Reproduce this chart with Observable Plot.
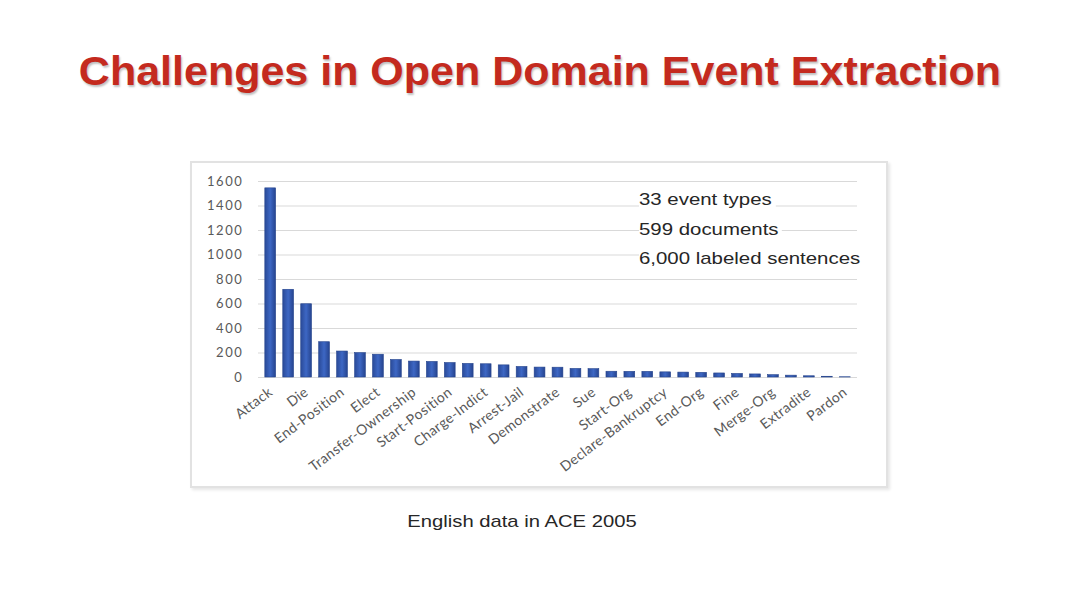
<!DOCTYPE html>
<html><head><meta charset="utf-8">
<script src="https://cdn.jsdelivr.net/npm/d3@7"></script>
<script src="https://cdn.jsdelivr.net/npm/@observablehq/plot@0.6"></script>
<style>
body{margin:0;width:1080px;height:608px;background:#fff;position:relative;overflow:hidden;font-family:"Liberation Sans",Arial,sans-serif}
#title{position:absolute;left:0;width:1080px;top:46px;line-height:50px;text-align:center;font-weight:bold;font-size:40px;color:#c42a1e;text-shadow:1px 2px 2px rgba(0,0,0,0.25);white-space:nowrap;transform:scaleX(1.075);transform-origin:540px 0}
#panel{position:absolute;left:190px;top:161px;width:694px;height:323px;border:2px solid #e2e2e2;box-shadow:2px 2px 3px rgba(0,0,0,0.10);background:#fff}
#chart{position:absolute;left:192px;top:163px}
#notes{position:absolute;left:639px;top:185px;font-size:17px;color:#262626;line-height:29.5px;white-space:nowrap;transform:scaleX(1.2);transform-origin:0 0}
#notes span{background:#fff;padding-right:3px}
#caption{position:absolute;left:-18px;width:1080px;top:511px;line-height:22px;text-align:center;font-size:17px;color:#262626;transform:scaleX(1.19);transform-origin:540px 0}
#chart g[aria-label="y-axis tick label"] text{letter-spacing:1.6px}
#chart g[aria-label="x-axis tick label"] text{letter-spacing:0.4px}
</style></head>
<body>
<div id="title">Challenges in Open Domain Event Extraction</div>
<div id="panel"></div>
<div id="chart"></div>
<div id="notes"><span>33 event types</span><br><span>599 documents</span><br><span>6,000 labeled sentences</span></div>
<div id="caption">English data in ACE 2005</div>
<script>
const eventTypes = ["Attack","Transport","Die","Meet","End-Position","Transfer-Money","Elect","Injure","Transfer-Ownership","Phone-Write","Start-Position","Trial-Hearing","Charge-Indict","Sentence","Arrest-Jail","Marry","Demonstrate","Convict","Sue","Release-Parole","Start-Org","Be-Born","Declare-Bankruptcy","Execute","End-Org","Divorce","Fine","Appeal","Merge-Org","Nominate","Extradite","Acquit","Pardon"];
const counts = [1544,716,598,288,212,199,186,143,130,127,118,111,108,99,86,81,80,70,68,47,46,46,42,40,38,33,29,25,19,15,10,6,2];
const labeledTypes = ["Attack","Die","End-Position","Elect","Transfer-Ownership","Start-Position","Charge-Indict","Arrest-Jail","Demonstrate","Sue","Start-Org","Declare-Bankruptcy","End-Org","Fine","Merge-Org","Extradite","Pardon"];
const yTicks = [0,200,400,600,800,1000,1200,1400,1600];

const data = eventTypes.map((t,i)=>({type:t,count:counts[i]}));

const chart = Plot.plot({
  width: 694, height: 322,
  marginLeft: 66, marginRight: 29, marginTop: 18, marginBottom: 108,
  style: {fontFamily: "Lato, 'Liberation Sans', sans-serif", fontSize: "12px", color: "#595959", background: "transparent"},
  x: {domain: eventTypes, padding: 0.4, paddingOuter: 0.38, label: null},
  y: {domain: [0,1600], label: null},
  marks: [
    Plot.ruleY(yTicks, {stroke: "#d9d9d9", strokeWidth: 1, strokeOpacity: 1}),
    Plot.barY(data, {x: "type", y: "count", fill: "url(#barGrad)", stroke: "#24438c", strokeWidth: 0.6}),
    Plot.axisY({ticks: yTicks, tickSize: 0, tickPadding: 15, fontSize: 13, tickFormat: d => String(d)}),
    Plot.axisX({ticks: labeledTypes, tickSize: 0, tickPadding: 13, tickRotate: -37, fontSize: 14})
  ]
});
const defs = document.createElementNS("http://www.w3.org/2000/svg","defs");
defs.innerHTML = '<linearGradient id="barGrad" x1="0" x2="1" y1="0" y2="0"><stop offset="0" stop-color="#2a4a98"/><stop offset="0.5" stop-color="#3d67c4"/><stop offset="1" stop-color="#26448f"/></linearGradient>';
chart.insertBefore(defs, chart.firstChild);
document.getElementById("chart").appendChild(chart);
</script>
</body></html>
